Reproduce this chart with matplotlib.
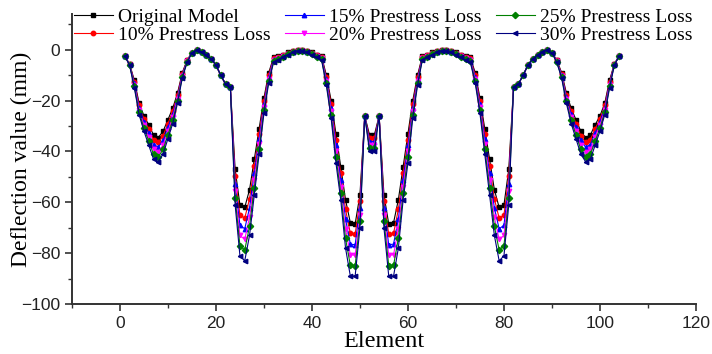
import matplotlib
matplotlib.use("Agg")
import matplotlib.pyplot as plt
from matplotlib.ticker import MultipleLocator

# element numbers along the girder
element = list(range(1, 105))

original = [
    -2.5, -5.5, -12.0, -21.0, -26.0, -29.5, -33.5, -34.5, -32.0, -27.5, -23.0, -17.0, -9.0,
    -4.0, -1.2, 0.0, -0.8, -2.0, -3.5, -6.0, -10.0, -13.5, -14.5, -47.0, -61.0, -62.0,
    -55.0, -43.0, -31.0, -19.0, -9.0, -3.0, -2.5, -2.0, -1.0, -0.5, 0.0, 0.0, -0.5,
    -1.0, -2.0, -2.5, -10.0, -20.0, -33.0, -46.0, -59.0, -68.0, -68.5, -57.0, -26.0, -33.5,
    -33.5, -26.0, -57.0, -68.5, -68.0, -59.0, -46.0, -33.0, -20.0, -10.0, -2.5, -2.0, -1.0,
    -0.5, 0.0, 0.0, -0.5, -1.0, -2.0, -2.5, -3.0, -9.0, -19.0, -31.0, -43.0, -55.0,
    -62.0, -61.0, -47.0, -14.5, -13.5, -10.0, -6.0, -3.5, -2.0, -0.8, 0.0, -1.2, -4.0,
    -9.0, -17.0, -23.0, -27.5, -32.0, -34.5, -33.5, -29.5, -26.0, -21.0, -12.0, -5.5, -2.5]

loss10 = [
    -2.5, -5.6, -12.6, -21.9, -27.2, -31.1, -35.4, -36.4, -33.8, -29.0, -24.2, -17.8, -9.4,
    -4.2, -1.2, 0.0, -0.8, -2.0, -3.5, -6.0, -10.0, -13.5, -14.5, -49.8, -65.0, -66.2,
    -58.6, -45.8, -33.0, -20.2, -9.8, -3.4, -2.8, -2.2, -1.2, -0.6, -0.1, -0.1, -0.6,
    -1.2, -2.2, -2.8, -10.8, -21.4, -35.3, -48.6, -62.8, -72.2, -72.6, -59.6, -26.0, -34.8,
    -34.8, -26.0, -59.6, -72.6, -72.2, -62.8, -48.6, -35.3, -21.4, -10.8, -2.8, -2.2, -1.2,
    -0.6, -0.1, -0.1, -0.6, -1.2, -2.2, -2.8, -3.4, -9.8, -20.2, -33.0, -45.8, -58.6,
    -66.2, -65.0, -49.8, -14.5, -13.5, -10.0, -6.0, -3.5, -2.0, -0.8, 0.0, -1.2, -4.2,
    -9.4, -17.8, -24.2, -29.0, -33.8, -36.4, -35.4, -31.1, -27.2, -21.9, -12.6, -5.6, -2.5]

loss15 = [
    -2.5, -5.7, -13.2, -22.8, -28.4, -32.7, -37.3, -38.3, -35.6, -30.5, -25.4, -18.6, -9.8,
    -4.4, -1.2, 0.0, -0.8, -2.0, -3.5, -6.0, -10.0, -13.5, -14.5, -52.6, -69.0, -70.4,
    -62.2, -48.6, -35.0, -21.4, -10.6, -3.8, -3.1, -2.4, -1.4, -0.7, -0.2, -0.2, -0.7,
    -1.4, -2.4, -3.1, -11.6, -22.8, -37.6, -51.2, -66.6, -76.4, -76.7, -62.2, -26.0, -36.1,
    -36.1, -26.0, -62.2, -76.7, -76.4, -66.6, -51.2, -37.6, -22.8, -11.6, -3.1, -2.4, -1.4,
    -0.7, -0.2, -0.2, -0.7, -1.4, -2.4, -3.1, -3.8, -10.6, -21.4, -35.0, -48.6, -62.2,
    -70.4, -69.0, -52.6, -14.5, -13.5, -10.0, -6.0, -3.5, -2.0, -0.8, 0.0, -1.2, -4.4,
    -9.8, -18.6, -25.4, -30.5, -35.6, -38.3, -37.3, -32.7, -28.4, -22.8, -13.2, -5.7, -2.5]

loss20 = [
    -2.5, -5.8, -13.8, -23.7, -29.6, -34.3, -39.2, -40.2, -37.4, -32.0, -26.6, -19.4, -10.2,
    -4.6, -1.2, 0.0, -0.8, -2.0, -3.5, -6.0, -10.0, -13.5, -14.5, -55.4, -73.0, -74.6,
    -65.8, -51.4, -37.0, -22.6, -11.4, -4.2, -3.4, -2.6, -1.6, -0.8, -0.3, -0.3, -0.8,
    -1.6, -2.6, -3.4, -12.4, -24.2, -39.9, -53.8, -70.4, -80.6, -80.8, -64.8, -26.0, -37.4,
    -37.4, -26.0, -64.8, -80.8, -80.6, -70.4, -53.8, -39.9, -24.2, -12.4, -3.4, -2.6, -1.6,
    -0.8, -0.3, -0.3, -0.8, -1.6, -2.6, -3.4, -4.2, -11.4, -22.6, -37.0, -51.4, -65.8,
    -74.6, -73.0, -55.4, -14.5, -13.5, -10.0, -6.0, -3.5, -2.0, -0.8, 0.0, -1.2, -4.6,
    -10.2, -19.4, -26.6, -32.0, -37.4, -40.2, -39.2, -34.3, -29.6, -23.7, -13.8, -5.8, -2.5]

loss25 = [
    -2.5, -5.9, -14.4, -24.6, -30.8, -35.9, -41.1, -42.1, -39.2, -33.5, -27.8, -20.2, -10.6,
    -4.8, -1.2, 0.0, -0.8, -2.0, -3.5, -6.0, -10.0, -13.5, -14.5, -58.2, -77.0, -78.8,
    -69.4, -54.2, -39.0, -23.8, -12.2, -4.6, -3.7, -2.8, -1.8, -0.9, -0.4, -0.4, -0.9,
    -1.8, -2.8, -3.7, -13.2, -25.6, -42.2, -56.4, -74.2, -84.8, -84.9, -67.4, -26.0, -38.7,
    -38.7, -26.0, -67.4, -84.9, -84.8, -74.2, -56.4, -42.2, -25.6, -13.2, -3.7, -2.8, -1.8,
    -0.9, -0.4, -0.4, -0.9, -1.8, -2.8, -3.7, -4.6, -12.2, -23.8, -39.0, -54.2, -69.4,
    -78.8, -77.0, -58.2, -14.5, -13.5, -10.0, -6.0, -3.5, -2.0, -0.8, 0.0, -1.2, -4.8,
    -10.6, -20.2, -27.8, -33.5, -39.2, -42.1, -41.1, -35.9, -30.8, -24.6, -14.4, -5.9, -2.5]

loss30 = [
    -2.5, -6.0, -15.0, -25.5, -32.0, -37.5, -43.0, -44.0, -41.0, -35.0, -29.0, -21.0, -11.0,
    -5.0, -1.2, 0.0, -0.8, -2.0, -3.5, -6.0, -10.0, -13.5, -14.5, -61.0, -81.0, -83.0,
    -73.0, -57.0, -41.0, -25.0, -13.0, -5.0, -4.0, -3.0, -2.0, -1.0, -0.5, -0.5, -1.0,
    -2.0, -3.0, -4.0, -14.0, -27.0, -44.5, -59.0, -78.0, -89.0, -89.0, -70.0, -26.0, -40.0,
    -40.0, -26.0, -70.0, -89.0, -89.0, -78.0, -59.0, -44.5, -27.0, -14.0, -4.0, -3.0, -2.0,
    -1.0, -0.5, -0.5, -1.0, -2.0, -3.0, -4.0, -5.0, -13.0, -25.0, -41.0, -57.0, -73.0,
    -83.0, -81.0, -61.0, -14.5, -13.5, -10.0, -6.0, -3.5, -2.0, -0.8, 0.0, -1.2, -5.0,
    -11.0, -21.0, -29.0, -35.0, -41.0, -44.0, -43.0, -37.5, -32.0, -25.5, -15.0, -6.0, -2.5]

labels = ["Original Model", "10% Prestress Loss", "15% Prestress Loss",
          "20% Prestress Loss", "25% Prestress Loss", "30% Prestress Loss"]
series = [original, loss10, loss15, loss20, loss25, loss30]
colors = ["black", "red", "blue", "magenta", "green", "navy"]
markers = ["s", "o", "^", "v", "D", "<"]

fig = plt.figure(figsize=(7.12, 3.54), dpi=100)
ax = fig.add_axes([0.101, 0.141, 0.8765, 0.819])

for vals, lab, c, m in zip(series, labels, colors, markers):
    ax.plot(element, vals, color=c, marker=m, markersize=3.2, linewidth=0.8, label=lab)

ax.set_xlim(-10, 120)
ax.set_ylim(-100, 14)
ax.xaxis.set_major_locator(MultipleLocator(20))
ax.xaxis.set_minor_locator(MultipleLocator(10))
ax.yaxis.set_major_locator(MultipleLocator(20))
ax.yaxis.set_minor_locator(MultipleLocator(10))

for side in ["top", "right"]:
    ax.spines[side].set_visible(False)
for side in ["left", "bottom"]:
    ax.spines[side].set_linewidth(1.4)
    ax.spines[side].set_color("#333333")

ax.tick_params(which="major", direction="out", length=5, width=1.2, colors="#333333",
               labelsize=12.5, labelcolor="#222222")
ax.tick_params(which="minor", direction="out", length=3, width=1.0, colors="#333333")
for t in ax.get_xticklabels() + ax.get_yticklabels():
    t.set_family("Liberation Sans")

ax.set_xlabel("Element", family="Liberation Serif", fontsize=17.5, labelpad=0)
ax.set_ylabel("Deflection value (mm)", family="Liberation Serif", fontsize=17)
ax.yaxis.set_label_coords(-0.064, 0.5)

fig.legend(loc="upper left", bbox_to_anchor=(74 / 712, 1 - 8 / 354), ncol=3, frameon=False,
           prop={"family": "Liberation Serif", "size": 14}, borderpad=0, borderaxespad=0,
           labelspacing=0.05, handlelength=2.0, handletextpad=0.25, columnspacing=0.75)

fig.savefig("out.png", dpi=100)
